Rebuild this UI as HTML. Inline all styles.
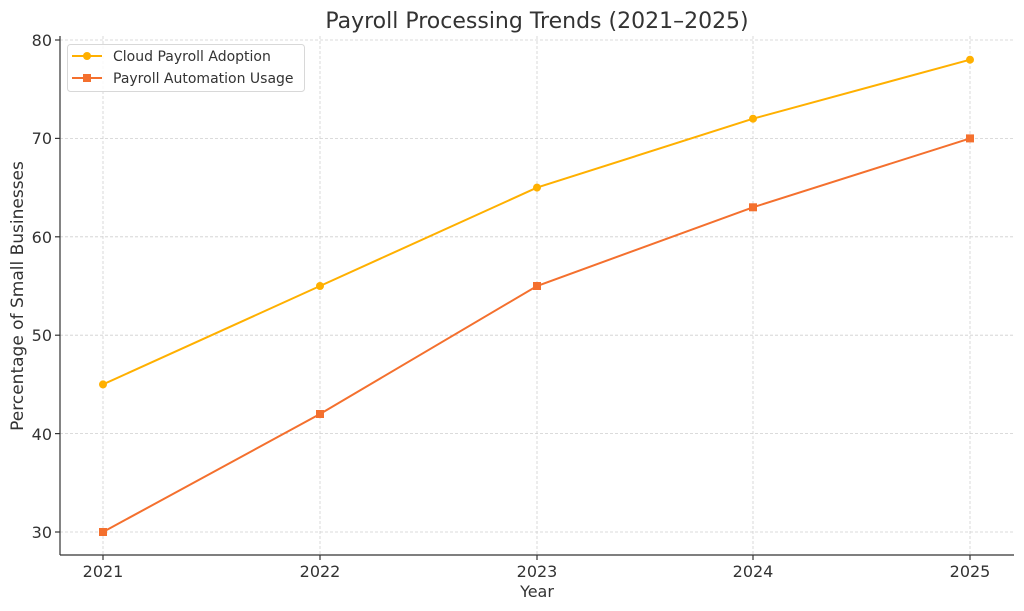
<!DOCTYPE html>
<html><head><meta charset="utf-8"><style>body{margin:0;background:#fff}svg{display:block}text{font-family:"DejaVu Sans","Liberation Sans",sans-serif;fill:#333}</style></head><body>
<svg width="1024" height="611" xmlns="http://www.w3.org/2000/svg">
<g stroke="#cfcfcf" stroke-width="0.8" stroke-dasharray="3,2">
<line x1="103" y1="36" x2="103" y2="555"/><line x1="320" y1="36" x2="320" y2="555"/><line x1="537" y1="36" x2="537" y2="555"/><line x1="753" y1="36" x2="753" y2="555"/><line x1="970" y1="36" x2="970" y2="555"/>
<line x1="60" y1="40" x2="1014" y2="40"/><line x1="60" y1="138.4" x2="1014" y2="138.4"/><line x1="60" y1="236.8" x2="1014" y2="236.8"/><line x1="60" y1="335.2" x2="1014" y2="335.2"/><line x1="60" y1="433.6" x2="1014" y2="433.6"/><line x1="60" y1="532" x2="1014" y2="532"/>
</g>
<g stroke="#333" stroke-width="1.2"><line x1="60" y1="36" x2="60" y2="555"/><line x1="60" y1="555" x2="1014" y2="555"/>
<line x1="55" y1="40" x2="60" y2="40"/><line x1="55" y1="138.4" x2="60" y2="138.4"/><line x1="55" y1="236.8" x2="60" y2="236.8"/><line x1="55" y1="335.2" x2="60" y2="335.2"/><line x1="55" y1="433.6" x2="60" y2="433.6"/><line x1="55" y1="532" x2="60" y2="532"/>
<line x1="103" y1="555" x2="103" y2="560"/><line x1="320" y1="555" x2="320" y2="560"/><line x1="537" y1="555" x2="537" y2="560"/><line x1="753" y1="555" x2="753" y2="560"/><line x1="970" y1="555" x2="970" y2="560"/></g>
<g font-size="16" text-anchor="end"><text x="52" y="46">80</text><text x="52" y="144">70</text><text x="52" y="243">60</text><text x="52" y="341">50</text><text x="52" y="440">40</text><text x="52" y="538">30</text></g>
<g font-size="16" text-anchor="middle"><text x="103" y="577">2021</text><text x="320" y="577">2022</text><text x="537" y="577">2023</text><text x="753" y="577">2024</text><text x="970" y="577">2025</text>
<text x="537" y="597">Year</text><text x="537" y="28" font-size="22">Payroll Processing Trends (2021–2025)</text>
<text transform="translate(23,296) rotate(-90)" font-size="17">Percentage of Small Businesses</text></g>
<polyline fill="none" stroke="#FFB000" stroke-width="2" points="103,384.4 320,286 537,187.6 753,118.7 970,59.7"/>
<g fill="#FFB000"><circle cx="103" cy="384.4" r="4"/><circle cx="320" cy="286" r="4"/><circle cx="537" cy="187.6" r="4"/><circle cx="753" cy="118.7" r="4"/><circle cx="970" cy="59.7" r="4"/></g>
<polyline fill="none" stroke="#F4702E" stroke-width="2" points="103,532 320,414 537,286 753,207.3 970,138.4"/>
<g fill="#F4702E"><rect x="99" y="528" width="8" height="8"/><rect x="316" y="410" width="8" height="8"/><rect x="533" y="282" width="8" height="8"/><rect x="749" y="203.3" width="8" height="8"/><rect x="966" y="134.4" width="8" height="8"/></g>
<rect x="67.5" y="44.5" width="237" height="47" rx="3" fill="#fff" fill-opacity="0.85" stroke="#d8d8d8"/>
<line x1="72" y1="56" x2="102" y2="56" stroke="#FFB000" stroke-width="2"/><circle cx="87" cy="56" r="4" fill="#FFB000"/>
<line x1="72" y1="78" x2="102" y2="78" stroke="#F4702E" stroke-width="2"/><rect x="83" y="74" width="8" height="8" fill="#F4702E"/>
<g font-size="14"><text x="113" y="61">Cloud Payroll Adoption</text><text x="113" y="83">Payroll Automation Usage</text></g>
</svg></body></html>
